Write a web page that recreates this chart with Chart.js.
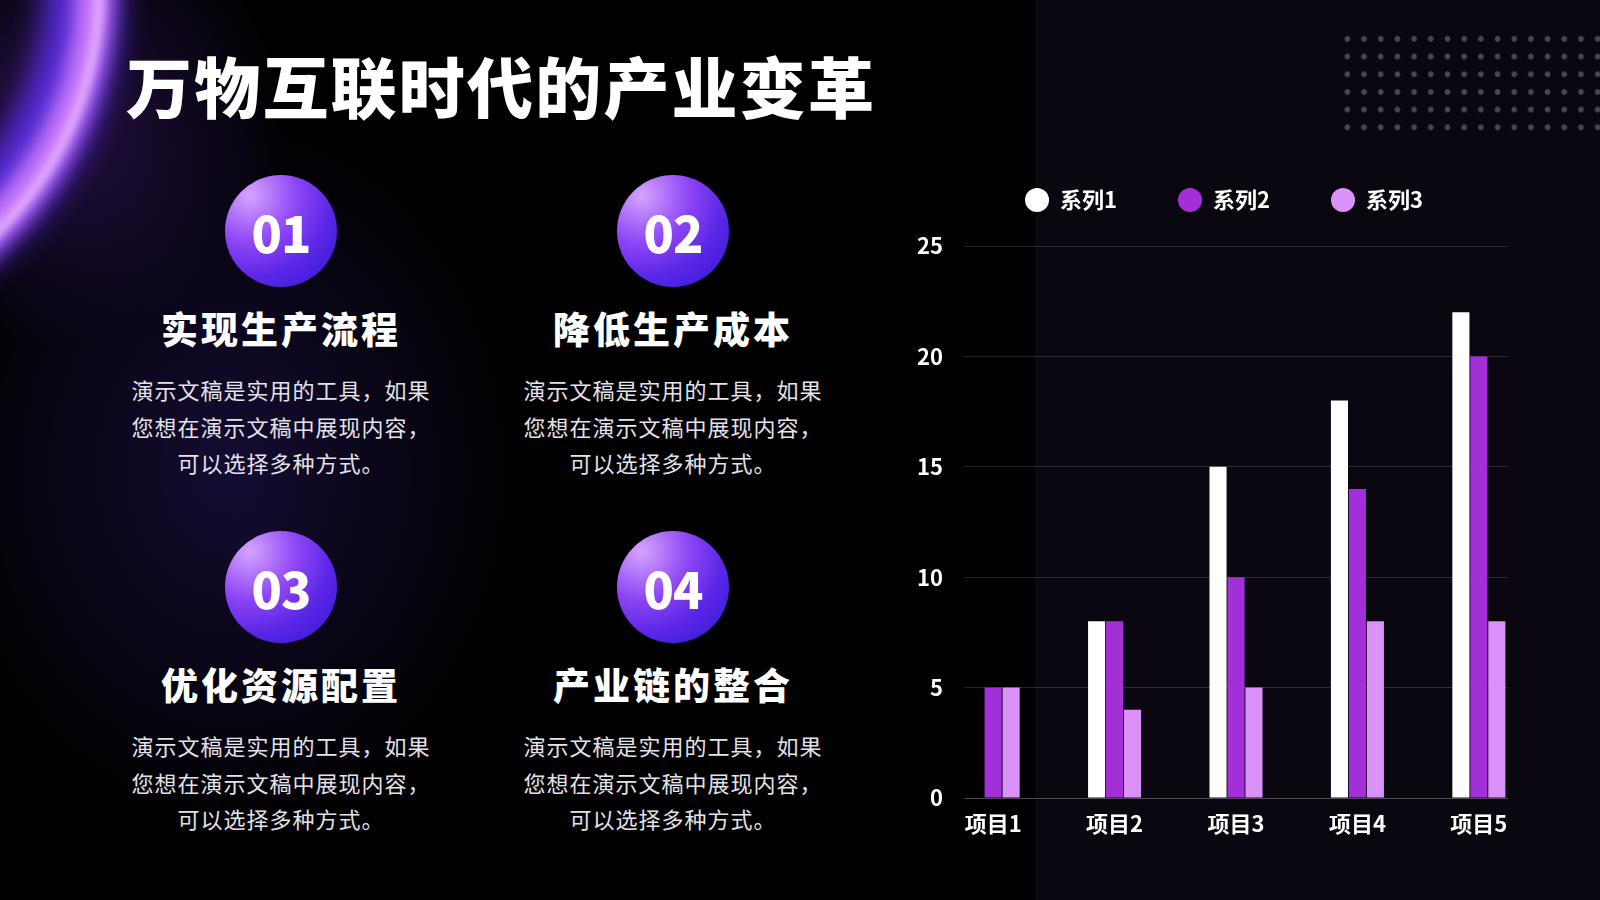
<!DOCTYPE html>
<html lang="zh-CN">
<head>
<meta charset="utf-8">
<title>万物互联时代的产业变革</title>
<script src="https://cdn.jsdelivr.net/npm/chart.js@4.4.1/dist/chart.umd.min.js"></script>
<style>
  html, body { margin: 0; padding: 0; }
  body {
    width: 1600px; height: 900px; overflow: hidden; position: relative;
    background: #000;
    font-family: "Noto Sans CJK SC", "Noto Sans", sans-serif;
    color: #fff;
  }
  .haze {
    position: absolute; left: 0; top: 0; width: 1035px; height: 900px;
    background:
      radial-gradient(ellipse 420px 520px at 230px 470px, rgba(38, 22, 92, 0.55), rgba(0,0,0,0) 70%),
      radial-gradient(ellipse 320px 320px at 60px 120px, rgba(90, 40, 170, 0.4), rgba(0,0,0,0) 70%);
  }
  .ring {
    position: absolute; border-radius: 50%; box-sizing: border-box;
    border-style: solid; border-color: transparent;
  }
  .ring.a { left: -612px; top: -382px; width: 734px; height: 734px; border-width: 78px; border-color: #5a2de4; filter: blur(14px); opacity: .9; }
  .ring.b { left: -592px; top: -364px; width: 704px; height: 704px; border-width: 36px; border-color: #c777fb; filter: blur(9px); }
  .ring.c { left: -582px; top: -354px; width: 686px; height: 686px; border-width: 9px; border-color: #f2c8ff; filter: blur(4px); opacity: .75; }
  .panel { position: absolute; left: 1035px; top: 0; width: 565px; height: 900px; background: #0a0711; }
  .dots {
    position: absolute; left: 1339px; top: 30px; width: 267px; height: 106px;
    background-image: radial-gradient(circle, #4a4553 2.5px, rgba(0,0,0,0) 3.2px);
    background-size: 16.7px 17.7px;
  }
  h1 {
    position: absolute; left: 126px; top: 45px; margin: 0;
    font-size: 66px; line-height: 78px; font-weight: 900; letter-spacing: 2.2px;
    white-space: nowrap;
  }
  .item { position: absolute; width: 400px; text-align: center; }
  .badge {
    position: absolute; left: 144px; top: 0; width: 112px; height: 112px; border-radius: 50%;
    background: radial-gradient(circle at 22% 18%, #d7a4ff 0%, #8d45f5 38%, #5a26e6 65%, #3214d4 100%);
    font-size: 50px; font-weight: 900; line-height: 112px; letter-spacing: -1px;
  }
  .item h2 {
    position: absolute; left: 0; width: 400px; top: 131px; margin: 0;
    font-size: 37px; line-height: 44px; font-weight: 900; letter-spacing: 3px;
  }
  .item p {
    position: absolute; left: 0; width: 400px; top: 196px; margin: 0;
    font-size: 22px; line-height: 36.5px; color: #e4e2ea; letter-spacing: 1px;
  }
  #chartBox { position: absolute; left: 880px; top: 120px; width: 680px; height: 740px; }
</style>
</head>
<body>
<div class="haze"></div>
<div class="ring a"></div>
<div class="ring b"></div>
<div class="ring c"></div>
<div class="panel"></div>
<div class="dots"></div>

<h1>万物互联时代的产业变革</h1>

<div class="item" style="left:81px; top:175px;">
  <div class="badge">01</div>
  <h2>实现生产流程</h2>
  <p>演示文稿是实用的工具，如果<br>您想在演示文稿中展现内容，<br>可以选择多种方式。</p>
</div>
<div class="item" style="left:473px; top:175px;">
  <div class="badge">02</div>
  <h2>降低生产成本</h2>
  <p>演示文稿是实用的工具，如果<br>您想在演示文稿中展现内容，<br>可以选择多种方式。</p>
</div>
<div class="item" style="left:81px; top:531px;">
  <div class="badge">03</div>
  <h2>优化资源配置</h2>
  <p>演示文稿是实用的工具，如果<br>您想在演示文稿中展现内容，<br>可以选择多种方式。</p>
</div>
<div class="item" style="left:473px; top:531px;">
  <div class="badge">04</div>
  <h2>产业链的整合</h2>
  <p>演示文稿是实用的工具，如果<br>您想在演示文稿中展现内容，<br>可以选择多种方式。</p>
</div>

<div id="chartBox"><canvas id="barChart"></canvas></div>

<script>
// ── Chart Data ─────────────────────────────────────────────
const categories  = ['项目1', '项目2', '项目3', '项目4', '项目5'];
const seriesNames = ['系列1', '系列2', '系列3'];
const series1 = [0, 8, 15, 18, 22];
const series2 = [5, 8, 10, 14, 20];
const series3 = [5, 4, 5, 8, 8];
const yTicks  = [0, 5, 10, 15, 20, 25];

const colors = ['#ffffff', '#a22fd8', '#db92f8'];
const labelFont = { family: '"Noto Sans CJK SC", sans-serif', size: 22, weight: 'bold' };

// bars sit on a numeric x axis so the grid can stop a little past the outer bars
const toPoints = arr => arr.map((v, i) => ({ x: i, y: v }));

// ── Legend: extra gap below it, nudged right over the plot ──
const legendTweak = {
  id: 'legendTweak',
  beforeInit(chart) {
    const fit = chart.legend.fit;
    chart.legend.fit = function () {
      fit.bind(chart.legend)();
      this.height += 25;
    };
  },
  afterLayout(chart) {
    chart.legend.left += 60;
  }
};

const ctx = document.getElementById('barChart').getContext('2d');
const barChart = new Chart(ctx, {
  type: 'bar',
  data: {
    datasets: [series1, series2, series3].map((s, i) => ({
      label: seriesNames[i],
      data: toPoints(s),
      backgroundColor: colors[i],
      borderWidth: 0,
      categoryPercentage: 0.444,
      barPercentage: 0.95,
    }))
  },
  options: {
    responsive: true,
    maintainAspectRatio: false,
    animation: false,
    layout: { padding: { top: 8, right: 52, bottom: 12, left: 0 } },
    plugins: {
      tooltip: { enabled: false },
      legend: {
        position: 'top',
        labels: {
          color: '#ffffff',
          font: labelFont,
          usePointStyle: true,
          pointStyle: 'circle',
          pointStyleWidth: 24,
          boxHeight: 17,
          padding: 61,
        }
      }
    },
    scales: {
      x: {
        type: 'linear',
        offset: false,
        min: -0.24,
        max: 4.24,
        grid: { display: false },
        border: { display: false },
        ticks: {
          stepSize: 1,
          includeBounds: false,
          autoSkip: false,
          maxRotation: 0,
          padding: 4,
          color: '#ffffff',
          font: labelFont,
          callback: v => categories[v] ?? ''
        },
        afterFit: scale => { scale.height = 50; }
      },
      y: {
        min: yTicks[0],
        max: yTicks[yTicks.length - 1],
        grid: {
          drawTicks: false,
          color: c => c.index === 0 ? 'rgba(255,255,255,0.28)' : 'rgba(255,255,255,0.14)',
          lineWidth: 1,
        },
        border: { display: false },
        afterBuildTicks: scale => { scale.ticks = yTicks.map(v => ({ value: v })); },
        ticks: {
          padding: 21,
          color: '#ffffff',
          font: labelFont,
        },
        afterFit: scale => { scale.width = 84; }
      }
    }
  },
  plugins: [legendTweak]
});
</script>
</body>
</html>
